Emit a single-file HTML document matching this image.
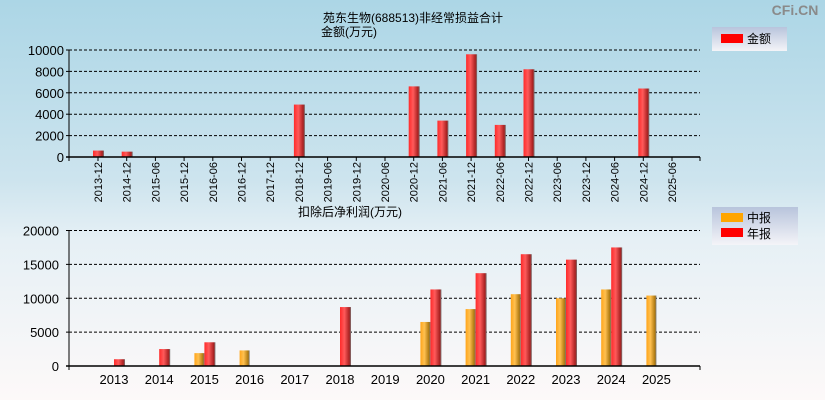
<!DOCTYPE html>
<html><head><meta charset="utf-8">
<style>
html,body{margin:0;padding:0;width:825px;height:400px;overflow:hidden;}
body{background:linear-gradient(#acd6e6 0%,#cde4ee 45%,#e6f0f5 60%,#fdf9f9 100%);font-family:"Liberation Sans","Noto Sans CJK SC",sans-serif;}
svg{display:block;background:linear-gradient(#acd6e6 0%,#cde4ee 45%,#e6f0f5 60%,#fdf9f9 100%);}
svg text{font-family:"Liberation Sans","Noto Sans CJK SC",sans-serif;}
</style></head><body>
<svg width="825" height="400" xmlns="http://www.w3.org/2000/svg" id="chart">
<defs>
<linearGradient id="gR" x1="0" x2="1" y1="0" y2="0"><stop offset="0" stop-color="#ff2a2a"/><stop offset="0.4" stop-color="#ff5a5a"/><stop offset="0.85" stop-color="#a82020"/><stop offset="1" stop-color="#777"/></linearGradient>
<linearGradient id="gO" x1="0" x2="1" y1="0" y2="0"><stop offset="0" stop-color="#ffa51a"/><stop offset="0.4" stop-color="#ffc050"/><stop offset="0.85" stop-color="#b07a10"/><stop offset="1" stop-color="#777"/></linearGradient>
<linearGradient id="gL" x1="0" x2="0" y1="0" y2="1"><stop offset="0" stop-color="#b8c4dc"/><stop offset="1" stop-color="#f4f4f8"/></linearGradient>
</defs>
<text x="795" y="15" font-size="14" font-weight="bold" fill="#8a8a8a" text-anchor="middle">CFi.CN</text>
<text x="323" y="22" font-size="12">苑东生物(688513)非经常损益合计</text>
<text x="321" y="36" font-size="12">金额(万元)</text>
<g>
<rect x="712" y="27" width="75" height="24" fill="url(#gL)"/>
<rect x="721" y="34" width="22" height="9" fill="#ff0000"/>
<text x="747" y="43" font-size="12">金额</text>
</g>
<text x="298" y="216" font-size="12">扣除后净利润(万元)</text>
<g>
<rect x="712" y="207" width="86" height="38" fill="url(#gL)"/>
<rect x="721" y="213" width="22" height="9" fill="#ffa500"/>
<text x="747" y="222" font-size="12">中报</text>
<rect x="721" y="228" width="22" height="9" fill="#ff0000"/>
<text x="747" y="238" font-size="12">年报</text>
</g>
<g id="top"></g>
<g id="bot"></g>
</svg>
<script>
const topCats=["2013-12","2014-12","2015-06","2015-12","2016-06","2016-12","2017-12","2018-12","2019-06","2019-12","2020-06","2020-12","2021-06","2021-12","2022-06","2022-12","2023-06","2023-12","2024-06","2024-12","2025-06"];
const topVals=[600,500,0,0,0,0,0,4900,0,0,0,6600,3400,9600,3000,8200,0,0,0,6400,0];
const topTicks=[0,2000,4000,6000,8000,10000];
const botCats=["2013","2014","2015","2016","2017","2018","2019","2020","2021","2022","2023","2024","2025"];
const botMid=[0,0,1900,2300,0,0,0,6500,8400,10600,10000,11300,10400];
const botAnnual=[1000,2500,3500,0,0,8700,0,11300,13700,16500,15700,17500,0];
const botTicks=[0,5000,10000,15000,20000];

const NS="http://www.w3.org/2000/svg";
function mk(p,t,a){const e=document.createElementNS(NS,t);for(const k in a)e.setAttribute(k,a[k]);p.appendChild(e);return e;}
const L=69,R=700;
const tg=document.getElementById('top');
const tY=v=>157-v*(107/10000);
const tX=i=>98+i*28.7;
topTicks.forEach(t=>{
  if(t>0){const g=mk(tg,'line',{x1:L,x2:R,y1:tY(t),y2:tY(t),stroke:'#000','stroke-dasharray':'3,2'});
  
  }
  const tx=mk(tg,'text',{x:L-5,y:tY(t)+5,'font-size':'13','text-anchor':'end'});tx.textContent=t;
  
  
  mk(tg,'line',{x1:L-3,x2:L,y1:tY(t),y2:tY(t),stroke:'#000'});
});
topVals.forEach((v,i)=>{
  if(v>0){const b=mk(tg,'rect',{x:tX(i)-5,y:tY(v),width:11,height:tY(0)-tY(v),fill:'url(#gR)'});
  
  }
});
topCats.forEach((c,i)=>{
  mk(tg,'line',{x1:tX(i),x2:tX(i),y1:157,y2:161,stroke:'#000'});
  const tx=mk(tg,'text',{x:0,y:0,'font-size':'11','text-anchor':'end',transform:`translate(${tX(i)+4},162) rotate(-90)`});tx.textContent=c;
  
  
});
mk(tg,'line',{x1:L,x2:L,y1:50,y2:161,stroke:'#000'});
mk(tg,'line',{x1:L-3,x2:R,y1:157,y2:157,stroke:'#000','stroke-width':1.5});
mk(tg,'line',{x1:R,x2:R,y1:157,y2:161,stroke:'#000'});
const bg=document.getElementById('bot');
const bY=v=>366-v*(135.5/20000);
const bX=i=>113+i*45.2;
botTicks.forEach(t=>{
  if(t>0){const g=mk(bg,'line',{x1:L,x2:R,y1:bY(t),y2:bY(t),stroke:'#000','stroke-dasharray':'3,2'});
  
  }
  const tx=mk(bg,'text',{x:L-10,y:bY(t)+5,'font-size':'13','text-anchor':'end'});tx.textContent=t;
  
  
  mk(bg,'line',{x1:L-3,x2:L,y1:bY(t),y2:bY(t),stroke:'#000'});
});
botCats.forEach((c,i)=>{
  if(botMid[i]>0){const b=mk(bg,'rect',{x:bX(i)-9,y:bY(botMid[i]),width:10,height:bY(0)-bY(botMid[i]),fill:'url(#gO)'});
  
  }
  if(botAnnual[i]>0){const b=mk(bg,'rect',{x:bX(i)+1,y:bY(botAnnual[i]),width:11,height:bY(0)-bY(botAnnual[i]),fill:'url(#gR)'});
  
  }
  const tx=mk(bg,'text',{x:bX(i)+1,y:384,'font-size':'13','text-anchor':'middle'});tx.textContent=c;
  
  
});
mk(bg,'line',{x1:L,x2:L,y1:230,y2:370,stroke:'#000'});
mk(bg,'line',{x1:L-3,x2:R,y1:366,y2:366,stroke:'#000','stroke-width':1.5});
mk(bg,'line',{x1:R,x2:R,y1:366,y2:370,stroke:'#000'});
</script>
</body></html>
